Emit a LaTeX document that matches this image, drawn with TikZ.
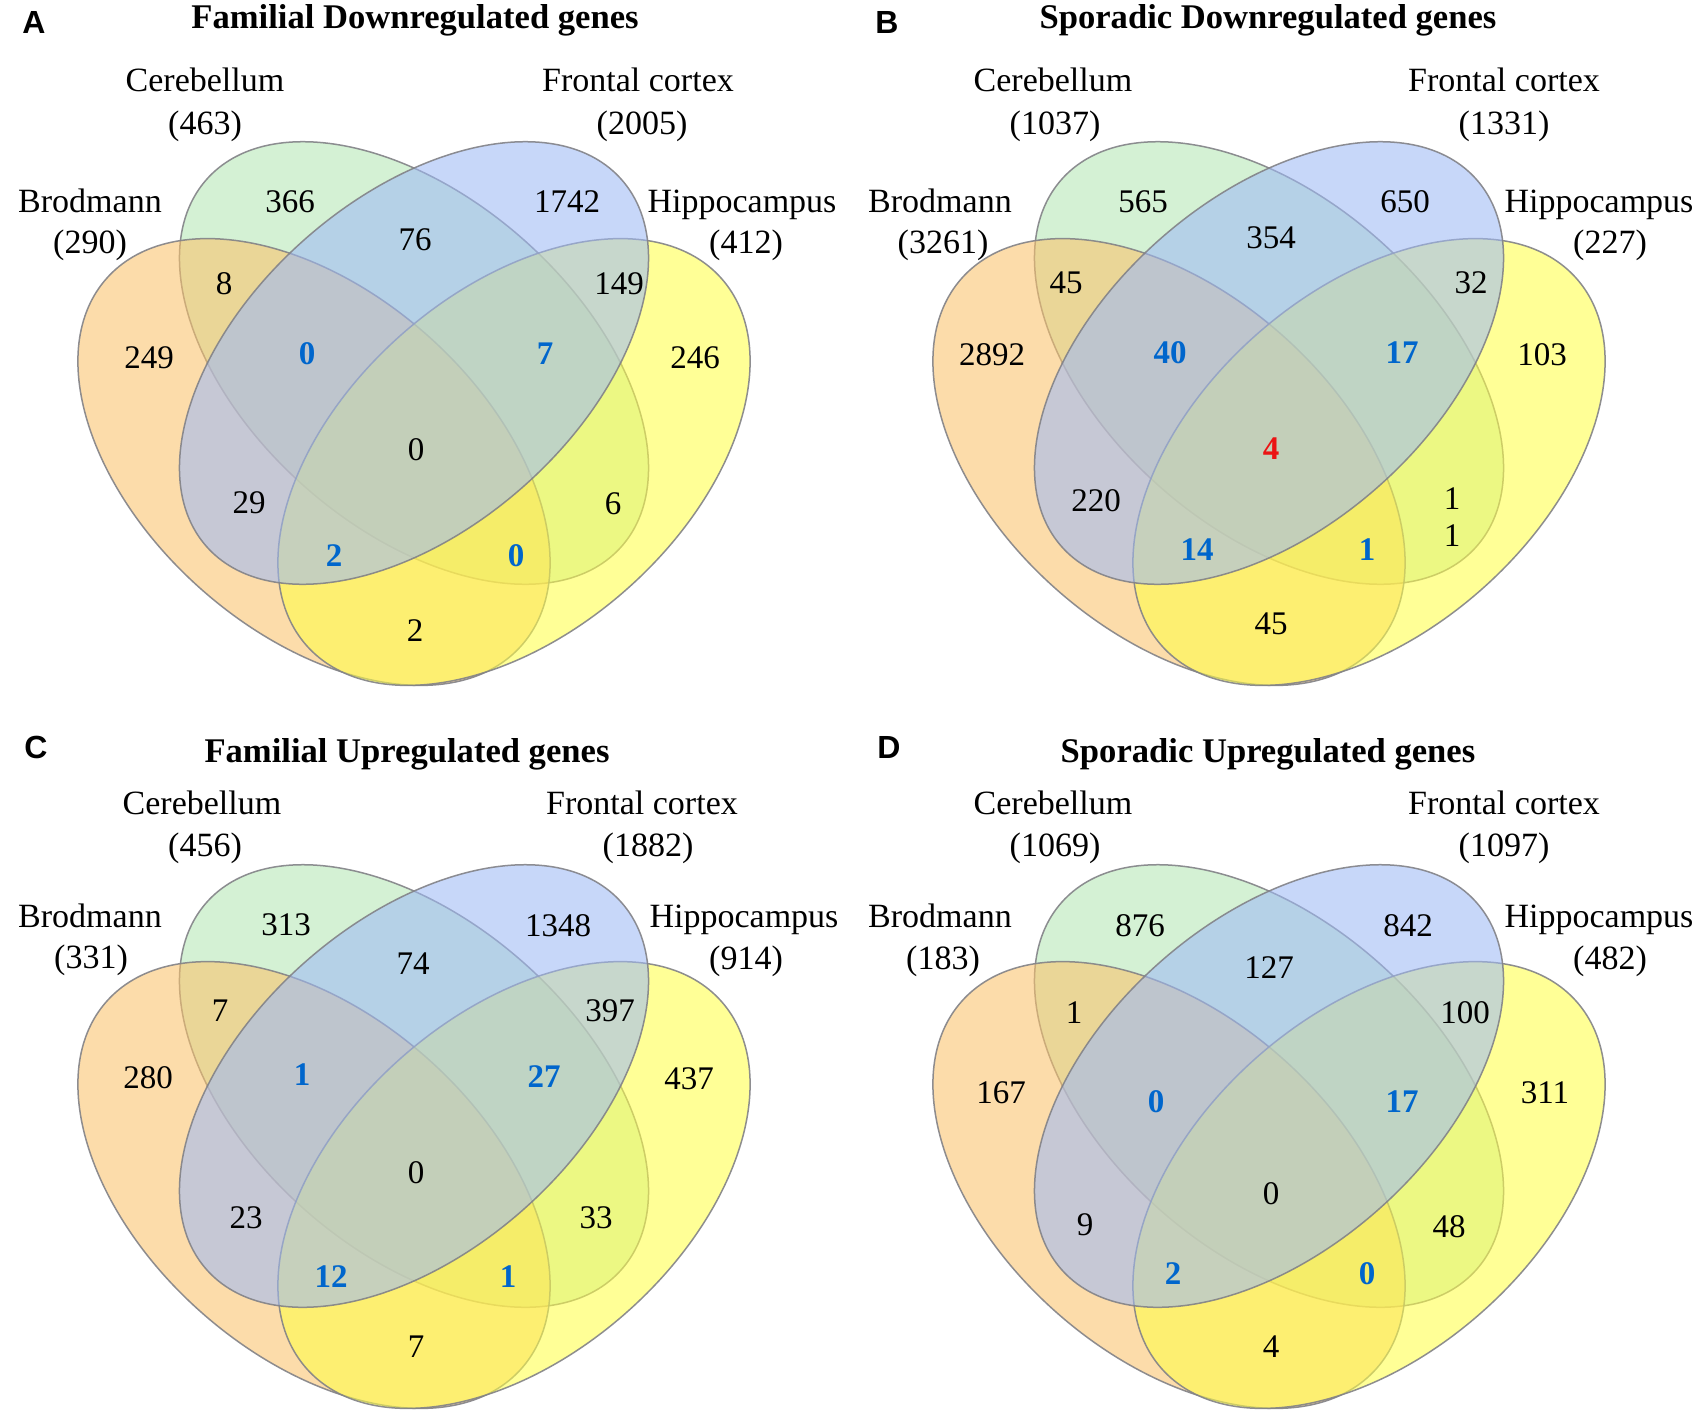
\documentclass[tikz,border=0pt]{standalone}
\usepackage{fontspec}
\setmainfont{Liberation Serif}
\newfontfamily\lettersans{Liberation Sans}
\definecolor{cOr}{RGB}{251,194,106}
\definecolor{cGr}{RGB}{181,232,180}
\definecolor{cBl}{RGB}{158,185,246}
\definecolor{cYe}{RGB}{255,255,71}
\definecolor{numblue}{RGB}{0,102,204}
\definecolor{numred}{RGB}{235,20,20}
\definecolor{edgecol}{RGB}{130,130,135}
\tikzset{
  vennfill/.style={draw=edgecol, line width=0.75pt, fill opacity=0.57, draw opacity=0.9},
  catlab/.style={font=\fontsize{17}{20}\selectfont, inner sep=0pt, text height=0.68em, text depth=0pt},
  cnt/.style={font=\fontsize{16.5}{20}\selectfont, inner sep=0pt, text height=0.68em, text depth=0pt},
  cntb/.style={font=\fontsize{16.5}{20}\selectfont\bfseries, text=numblue, inner sep=0pt, text height=0.68em, text depth=0pt},
  cntr/.style={font=\fontsize{16.5}{20}\selectfont\bfseries, text=numred, inner sep=0pt, text height=0.68em, text depth=0pt},
  ptitle/.style={font=\fontsize{17.3}{20}\selectfont\bfseries, inner sep=0pt, text height=0.68em, text depth=0pt},
  pletter/.style={font=\lettersans\bfseries\fontsize{16}{18}\selectfont, inner sep=0pt, text height=0.72em, text depth=0pt}
}
\newcommand\vennellipses{%
  \path[vennfill, fill=cGr, rotate around={-41.5:(414,363)}] (414,363) ellipse [x radius=277, y radius=165];
  \path[vennfill, fill=cOr, rotate around={-41.5:(314,462)}] (314,462) ellipse [x radius=277, y radius=170];
  \path[vennfill, fill=cYe, rotate around={41.5:(514,462)}] (514,462) ellipse [x radius=277, y radius=170];
  \path[vennfill, fill=cBl, rotate around={41.5:(414,363)}] (414,363) ellipse [x radius=277, y radius=165];
}
\begin{document}
\begin{tikzpicture}[x=0.5pt, y=-0.5pt]
\useasboundingbox (0,0) rectangle (1706,1424);
\fill[white] (0,0) rectangle (1706,1424);

% ---------- ellipses ----------
\begin{scope}\vennellipses\end{scope}
\begin{scope}[shift={(855,0)}]\vennellipses\end{scope}
\begin{scope}[shift={(0,723)}]\vennellipses\end{scope}
\begin{scope}[shift={(855,723)}]\vennellipses\end{scope}

% ---------- Panel A ----------
\node[pletter] (aL) at (34,26) {A};
\node[ptitle] (aT) at (415,22) {Familial Downregulated genes};
\node[catlab] (aC) at (205,85) {Cerebellum};
\node[catlab] (aCn) at (205,128) {(463)};
\node[catlab] (aF) at (638,85) {Frontal cortex};
\node[catlab] (aFn) at (642,128) {(2005)};
\node[catlab] (aB) at (90,206) {Brodmann};
\node[catlab] (aBn) at (90,247) {(290)};
\node[catlab] (aH) at (742,206) {Hippocampus};
\node[catlab] (aHn) at (746,247) {(412)};
\node[cnt] (a1) at (290,206) {366};
\node[cnt] (a2) at (567,206) {1742};
\node[cnt] (a3) at (415,244) {76};
\node[cnt] (a4) at (224,288) {8};
\node[cnt] (a5) at (619,288) {149};
\node[cnt] (a6) at (149,362) {249};
\node[cntb] (a7) at (307,358) {0};
\node[cntb] (a8) at (545,358) {7};
\node[cnt] (a9) at (695,362) {246};
\node[cnt] (a10) at (416,454) {0};
\node[cnt] (a11) at (249,507) {29};
\node[cnt] (a12) at (613,508) {6};
\node[cntb] (a13) at (334,560) {2};
\node[cntb] (a14) at (516,560) {0};
\node[cnt] (a15) at (415,635) {2};

% ---------- Panel B ----------
\node[pletter] (bL) at (887,26) {B};
\node[ptitle] (bT) at (1268,22) {Sporadic Downregulated genes};
\node[catlab] (bC) at (1053,85) {Cerebellum};
\node[catlab] (bCn) at (1055,128) {(1037)};
\node[catlab] (bF) at (1504,85) {Frontal cortex};
\node[catlab] (bFn) at (1504,128) {(1331)};
\node[catlab] (bB) at (940,206) {Brodmann};
\node[catlab] (bBn) at (943,247) {(3261)};
\node[catlab] (bH) at (1599,206) {Hippocampus};
\node[catlab] (bHn) at (1610,247) {(227)};
\node[cnt] (b1) at (1143,206) {565};
\node[cnt] (b2) at (1405,206) {650};
\node[cnt] (b3) at (1271,242) {354};
\node[cnt] (b4) at (1066,287) {45};
\node[cnt] (b5) at (1471,287) {32};
\node[cnt] (b6) at (992,359) {2892};
\node[cntb] (b7) at (1170,357) {40};
\node[cntb] (b8) at (1402,357) {17};
\node[cnt] (b9) at (1542,359) {103};
\node[cntr] (b10) at (1271,453) {4};
\node[cnt] (b11) at (1096,505) {220};
\node[cnt] (b12a) at (1452,503) {1};
\node[cnt] (b12b) at (1452,540) {1};
\node[cntb] (b13) at (1197,554) {14};
\node[cntb] (b14) at (1367,554) {1};
\node[cnt] (b15) at (1271,628) {45};

% ---------- Panel C ----------
\node[pletter] (cL) at (36,751) {C};
\node[ptitle] (cT) at (407,756) {Familial Upregulated genes};
\node[catlab] (cC) at (202,808) {Cerebellum};
\node[catlab] (cCn) at (205,850) {(456)};
\node[catlab] (cF) at (642,808) {Frontal cortex};
\node[catlab] (cFn) at (648,850) {(1882)};
\node[catlab] (cB) at (90,921) {Brodmann};
\node[catlab] (cBn) at (91,962) {(331)};
\node[catlab] (cH) at (744,921) {Hippocampus};
\node[catlab] (cHn) at (746,963) {(914)};
\node[cnt] (c1) at (286,929) {313};
\node[cnt] (c2) at (558,930) {1348};
\node[cnt] (c3) at (413,968) {74};
\node[cnt] (c4) at (220,1015) {7};
\node[cnt] (c5) at (610,1015) {397};
\node[cnt] (c6) at (148,1082) {280};
\node[cntb] (c7) at (302,1079) {1};
\node[cntb] (c8) at (544,1081) {27};
\node[cnt] (c9) at (689,1083) {437};
\node[cnt] (c10) at (416,1177) {0};
\node[cnt] (c11) at (246,1222) {23};
\node[cnt] (c12) at (596,1222) {33};
\node[cntb] (c13) at (331,1281) {12};
\node[cntb] (c14) at (508,1281) {1};
\node[cnt] (c15) at (416,1351) {7};

% ---------- Panel D ----------
\node[pletter] (dL) at (889,751) {D};
\node[ptitle] (dT) at (1268,756) {Sporadic Upregulated genes};
\node[catlab] (dC) at (1053,808) {Cerebellum};
\node[catlab] (dCn) at (1055,850) {(1069)};
\node[catlab] (dF) at (1504,808) {Frontal cortex};
\node[catlab] (dFn) at (1504,850) {(1097)};
\node[catlab] (dB) at (940,921) {Brodmann};
\node[catlab] (dBn) at (943,963) {(183)};
\node[catlab] (dH) at (1599,921) {Hippocampus};
\node[catlab] (dHn) at (1610,963) {(482)};
\node[cnt] (d1) at (1140,930) {876};
\node[cnt] (d2) at (1408,930) {842};
\node[cnt] (d3) at (1269,972) {127};
\node[cnt] (d4) at (1074,1017) {1};
\node[cnt] (d5) at (1465,1017) {100};
\node[cnt] (d6) at (1001,1097) {167};
\node[cntb] (d7) at (1156,1106) {0};
\node[cntb] (d8) at (1402,1106) {17};
\node[cnt] (d9) at (1545,1097) {311};
\node[cnt] (d10) at (1271,1198) {0};
\node[cnt] (d11) at (1085,1229) {9};
\node[cnt] (d12) at (1449,1231) {48};
\node[cntb] (d13) at (1173,1278) {2};
\node[cntb] (d14) at (1367,1278) {0};
\node[cnt] (d15) at (1271,1351) {4};
\end{tikzpicture}
\end{document}
